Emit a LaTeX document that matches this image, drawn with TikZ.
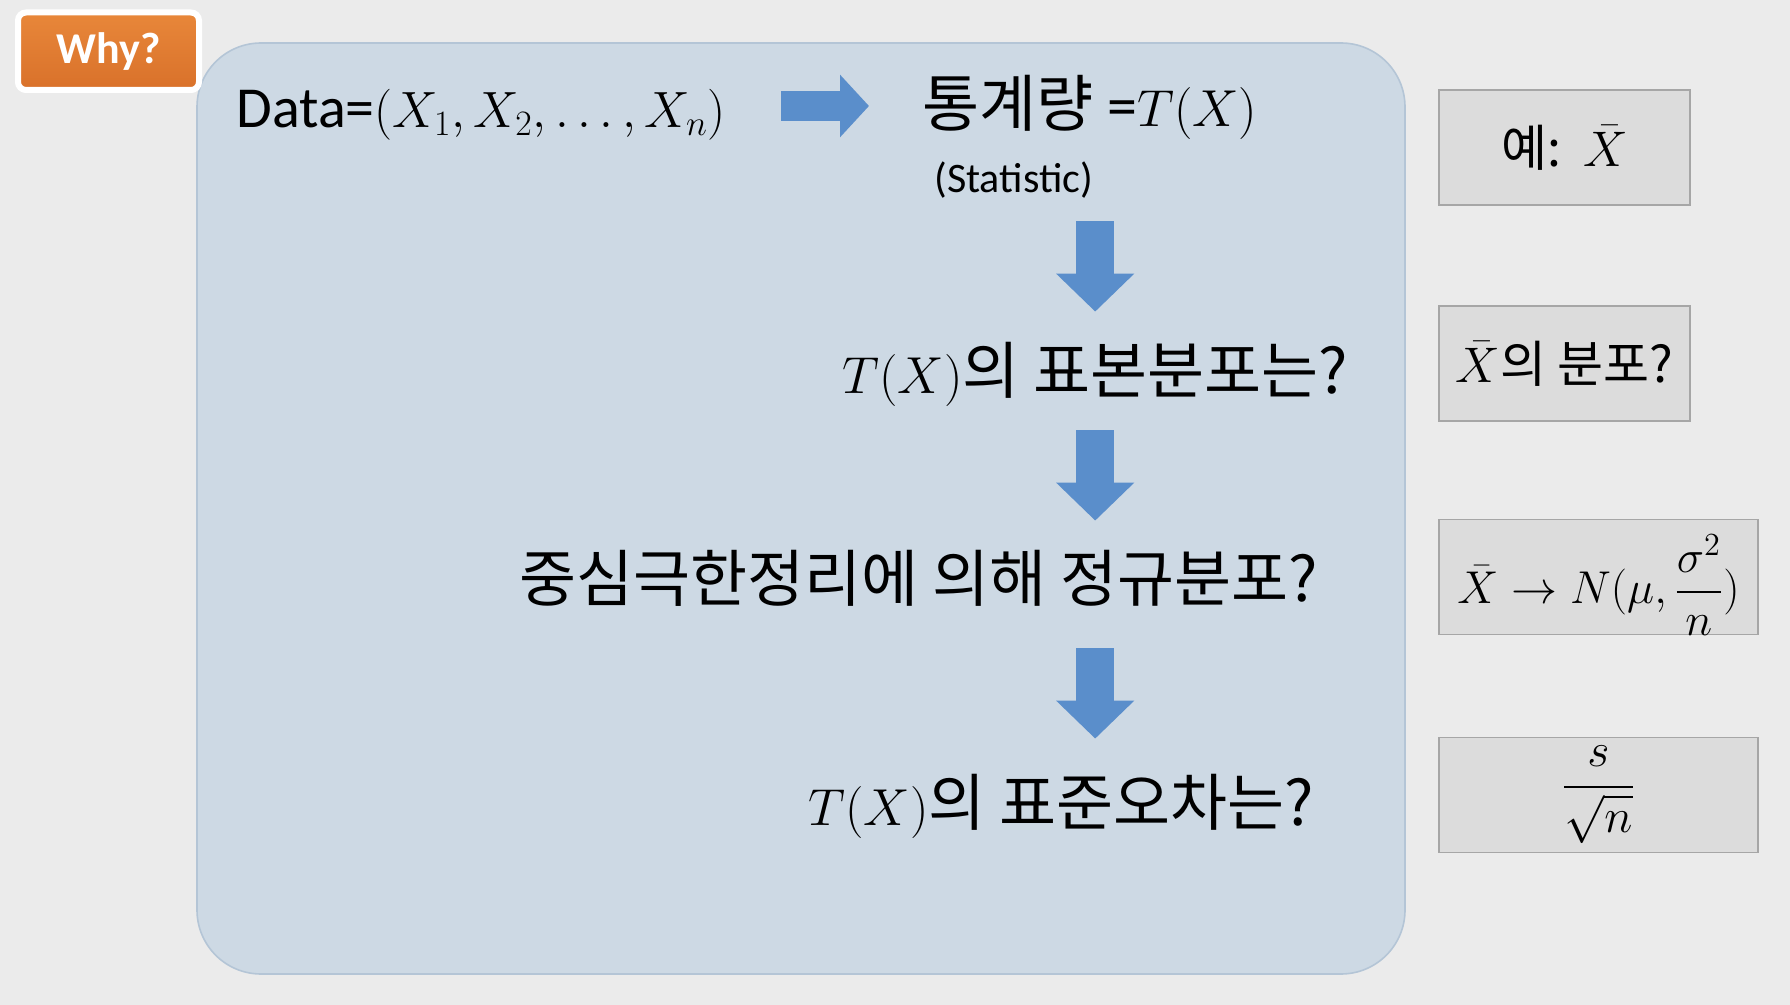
\RequirePackage{fix-cm}
\documentclass[tikz,border=0pt]{standalone}
\usepackage[no-math]{fontspec}
\setmainfont{Carlito}
\newfontfamily\kr{Noto Sans CJK KR}
\usepackage{amsmath, amssymb}
\usepackage{xcolor}
\usepackage{tikz}
\usetikzlibrary{positioning, arrows.meta, shadows}

\definecolor{bggray}{HTML}{EBEBEB}
\definecolor{panelfill}{HTML}{CDD9E4}
\definecolor{panelline}{HTML}{B4C5D6}
\definecolor{boxfill}{HTML}{DCDCDC}
\definecolor{boxline}{HTML}{A6A6A6}
\definecolor{arrowblue}{HTML}{5A8ECB}
\definecolor{whytop}{HTML}{E8873A}
\definecolor{whybottom}{HTML}{D9712A}

% math set a little smaller than the Korean text round it
\newcommand{\mathtxt}[1]{{\fontsize{26}{30}\selectfont$#1$}}

\begin{document}
\begin{tikzpicture}[x=0.5pt, y=-0.5pt,
  txt/.style={inner sep=0pt, font=\fontsize{31}{36}\selectfont\kr, text height=24pt, text depth=7pt},
  sidebox/.style={rectangle, draw=boxline, fill=boxfill, line width=0.9pt, minimum width=125.5pt, minimum height=57.5pt, inner sep=0pt, font=\fontsize{25}{30}\selectfont\kr},
  downarrow/.style={draw=arrowblue, line width=19pt, -{Triangle[width=38pt,length=19pt]}},
  rightarrow/.style={draw=arrowblue, line width=15pt, -{Triangle[width=30.5pt,length=14.5pt]}}]
\path[use as bounding box, fill=bggray] (0,0) rectangle (1790,1005);

\node (panel) [rectangle, rounded corners=32pt, fill=panelfill, draw=panelline, line width=0.8pt, minimum width=604pt, minimum height=465.5pt] at (801,508.5) {};
\node (why) [rectangle, rounded corners=4pt, top color=whytop, bottom color=whybottom, draw=white, line width=3pt, minimum width=90.5pt, minimum height=38.75pt, text=white, font=\fontsize{22}{26}\selectfont\bfseries, drop shadow={opacity=0.25, shadow xshift=0.6pt, shadow yshift=-0.8pt}] at (108.5,51.25) {Why?};

% flow of questions
\node (data) [txt, font=\fontsize{29}{34}\selectfont, anchor=base west] at (236,128) {Data={\fontsize{25.5}{30}\selectfont$(X_1,X_2,\ldots,X_n)$}};
\node (tstat) [txt, anchor=base west] at (922,127) {통계량 {\rmfamily\fontsize{30}{34}\selectfont =}\mathtxt{T(X)}};
\node (stat) [inner sep=0pt, font=\fontsize{21}{25}\selectfont, text height=15pt, text depth=5pt, anchor=base west] at (934,193) {(Statistic)};
\node (q1) [txt, anchor=base west] at (842,394) {\mathtxt{T(X)}의 표본분포는?};
\node (clt) [txt, anchor=base west] at (519,602) {중심극한정리에 의해 정규분포?};
\node (q2) [txt, anchor=base west] at (808,825) {\mathtxt{T(X)}의 표준오차는?};

\draw[rightarrow, shorten <=27.5pt, shorten >=26.5pt] ([yshift=2.5pt]data.east) -- ([yshift=2.5pt]data.east -| tstat.west);
\draw[downarrow, shorten <=9pt, shorten >=17pt] (stat.south -| q1.south) -- (q1.north);
\draw[downarrow, shorten <=11pt, shorten >=16.5pt] (q1.south) -- (clt.north -| q1.south);
\draw[downarrow, shorten <=16pt, shorten >=19pt] (clt.south -| q1.south) -- (q2.north -| q1.south);

% examples on the right
\node (ex) [sidebox] at (1564.5,147.5) {예:\ \ $\bar{X}$};
\node (dist) [sidebox] at (1564.5,363.5) {$\bar{X}$의 분포?};
\node (norm) [sidebox, minimum width=159.5pt, font=\fontsize{23}{28}\selectfont] at (1598.5,577) {\raisebox{-4pt}[\height][\depth]{$\bar{X}\rightarrow N(\mu,\dfrac{\sigma^2}{n})$}};
\node (se) [sidebox, minimum width=159.5pt, font=\fontsize{24}{28}\selectfont] at (1598.5,795) {$\dfrac{s}{\sqrt{n}}$};
\end{tikzpicture}
\end{document}
